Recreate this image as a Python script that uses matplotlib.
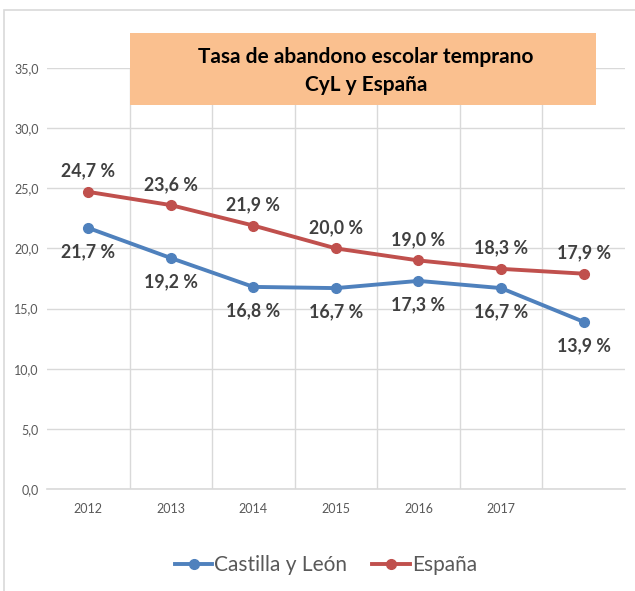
import matplotlib
matplotlib.use("Agg")
import matplotlib.pyplot as plt
from matplotlib.patches import Rectangle

plt.rcParams["font.family"] = ["Lato", "DejaVu Sans"]

years = ["2012", "2013", "2014", "2015", "2016", "2017", ""]
cyl = [21.7, 19.2, 16.8, 16.7, 17.3, 16.7, 13.9]
espana = [24.7, 23.6, 21.9, 20.0, 19.0, 18.3, 17.9]
yticks = [0, 5, 10, 15, 20, 25, 30, 35]

blue = "#4F81BD"
red = "#C0504D"
txt = "#404040"
grid = "#D9D9D9"

fig = plt.figure(figsize=(6.35, 5.91), dpi=100)
ax = fig.add_axes([0.074, 0.1726, 0.91, 0.7124])

x = list(range(len(years)))
ax.plot(x, cyl, color=blue, lw=2.8, marker="o", ms=7, label="Castilla y León", zorder=3)
ax.plot(x, espana, color=red, lw=2.8, marker="o", ms=7, label="España", zorder=3)

for i, v in enumerate(cyl):
    ax.annotate(f"{v:.1f} %".replace(".", ","), (i, v), xytext=(0, -17),
                textcoords="offset points", ha="center", va="center",
                fontsize=12.8, fontweight="bold", color=txt)
for i, v in enumerate(espana):
    ax.annotate(f"{v:.1f} %".replace(".", ","), (i, v), xytext=(0, 15),
                textcoords="offset points", ha="center", va="center",
                fontsize=12.8, fontweight="bold", color=txt)

ax.set_xlim(-0.5, len(years) - 0.5)
ax.set_ylim(0, 35)
ax.set_yticks(yticks)
ax.set_yticklabels([f"{t:.1f}".replace(".", ",") for t in yticks], fontsize=9, color="#595959")
ax.set_xticks(x)
ax.set_xticklabels(years, fontsize=9, color="#595959")
ax.set_xticks([i + 0.5 for i in x[:-1]], minor=True)
ax.tick_params(which="both", length=0, pad=10)
ax.tick_params(axis="y", pad=6)
ax.grid(axis="y", color=grid, lw=1)
ax.grid(axis="x", which="minor", color=grid, lw=1)
ax.set_axisbelow(True)
for s in ["top", "right", "left"]:
    ax.spines[s].set_visible(False)
ax.spines["bottom"].set_color(grid)
ax.spines["bottom"].set_linewidth(1.2)

# outer chart frame
fig.patches.append(Rectangle((0.007, -0.01), 1.1, 0.993, transform=fig.transFigure,
                             fill=False, edgecolor=grid, lw=1.2))

# title box
fig.patches.append(Rectangle((130 / 635, 1 - 105 / 591), 466 / 635, 72 / 591,
                             transform=fig.transFigure, facecolor="#FAC08F",
                             edgecolor="none", zorder=5))
fig.text(366 / 635, 1 - 71 / 591, "Tasa de abandono escolar temprano\nCyL y España",
         ha="center", va="center", fontsize=15, fontweight="bold", color="black",
         linespacing=1.45, zorder=6)

fig.legend(loc="center", bbox_to_anchor=(326 / 635, 1 - 565 / 591), ncol=2,
           frameon=False, fontsize=15, labelcolor="#595959", handlelength=1.8,
           handletextpad=0.1, columnspacing=1.2)

plt.savefig("out.png", dpi=100)
